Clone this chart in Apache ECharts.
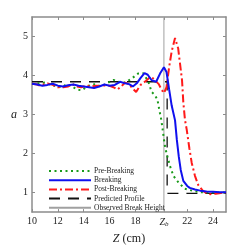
<!DOCTYPE html>
<html><head><meta charset="utf-8">
<script src="https://cdn.jsdelivr.net/npm/echarts@6/dist/echarts.min.js"></script>
<style>html,body{margin:0;padding:0;background:#fff}#c{width:250px;height:250px}</style>
</head><body><div id="c"></div>
<script>
const zb = 20.2;
const xTicks = [10, 12, 14, 16, 18, 20.2, 22, 24];
const yTicks = [1, 2, 3, 4, 5];
const seriesNames = ['Pre-Breaking', 'Breaking', 'Post-Breaking', 'Predicted Profile', 'Observed Break Height'];

const preZ = [10.0,10.5,11.0,11.5,12.0,12.3,12.7,13.1,13.5,13.85,14.2,14.5,14.9,15.3,15.7,16.0,16.3,16.7,17.0,17.4,17.7,18.2,18.6,19.0,19.25,19.5,19.7,19.85,20.0,20.1,20.2,20.3,20.45,20.67,20.93,21.3,21.8,22.5,23.0,23.5,24.0,24.5,25.0];
const preA = [3.78,3.80,3.82,3.75,3.72,3.70,3.78,3.72,3.64,3.62,3.70,3.76,3.78,3.72,3.78,3.84,3.89,3.84,3.80,3.86,3.92,4.05,4.06,3.84,3.58,3.50,3.38,3.11,2.86,2.62,2.37,2.15,1.95,1.68,1.43,1.27,1.10,1.04,1.01,1.00,1.00,1.00,1.00];

const brkZ = [10.0,10.4,10.8,11.2,11.6,12.0,12.4,12.8,13.2,13.6,14.0,14.4,14.8,15.2,15.6,16.0,16.4,16.8,17.2,17.5,17.8,18.1,18.4,18.7,18.95,19.25,19.6,19.9,20.2,20.4,20.6,20.8,21.06,21.2,21.35,21.5,21.7,22.0,22.2,22.6,23.0,23.5,24.0,24.5,25.0];
const brkA = [3.79,3.77,3.74,3.76,3.79,3.74,3.72,3.75,3.77,3.74,3.72,3.70,3.68,3.72,3.77,3.74,3.76,3.84,3.80,3.78,3.72,3.80,3.94,4.06,4.02,3.88,3.84,4.05,4.21,4.09,3.65,3.23,2.85,2.35,1.92,1.58,1.30,1.17,1.12,1.08,1.05,1.03,1.02,1.01,1.01];

const postZ = [10.0,10.4,10.6,11.2,11.6,12.0,12.4,12.8,13.1,13.4,13.8,14.2,14.6,15.0,15.4,15.8,16.3,16.6,16.9,17.2,17.5,17.8,18.05,18.4,18.8,19.2,19.5,19.8,20.0,20.2,20.4,20.6,20.8,21.06,21.3,21.45,21.6,21.7,21.83,21.96,22.17,22.35,22.6,22.86,23.2,23.5,23.8,24.2,24.6,25.0];
const postA = [3.79,3.77,3.74,3.80,3.76,3.70,3.70,3.72,3.79,3.72,3.70,3.74,3.72,3.74,3.73,3.76,3.70,3.64,3.72,3.82,3.78,3.66,3.58,3.76,3.86,3.98,3.88,3.78,3.65,3.55,3.70,4.21,4.62,4.96,4.70,4.29,3.88,3.31,2.86,2.62,2.13,1.76,1.43,1.19,1.05,0.98,0.96,0.97,0.99,1.00];

const predZ = [10, 20.45, 20.45, 25];
const predA = [3.84, 3.84, 0.98, 0.98];

const obsZ = [zb, zb];
const obsA = [0.5, 5.5];

const zip = (a, b) => a.map((v, i) => [v, b[i]]);
const font = 'Liberation Serif';
const axCol = '#8c8c8c';

const chart = echarts.init(document.getElementById('c'), null, {renderer: 'canvas'});
chart.setOption({
  animation: false,
  grid: {left: 32, top: 17, right: 24, bottom: 28},
  legend: {
    orient: 'vertical', left: 43, top: 162, itemWidth: 42, itemHeight: 8, itemGap: 1.2,
    itemStyle: {opacity: 0},
    textStyle: {fontFamily: font, fontSize: 7.5, color: '#222', padding: [0,0,0,-2]},
    data: seriesNames.map(n => ({name: n}))
  },
  xAxis: [{
    type: 'value', min: 10, max: 25, position: 'bottom',
    name: '{i|Z} (cm)', nameLocation: 'middle', nameGap: 15,
    nameTextStyle: {fontFamily: font, fontSize: 12, color: '#222', rich: {i: {fontFamily: font, fontSize: 12, fontStyle: 'italic', color: '#222'}}},
    axisLine: {onZero: false, lineStyle: {color: axCol, width: 1.5}},
    axisTick: {inside: true, length: 3, customValues: xTicks, lineStyle: {color: axCol}},
    splitLine: {show: false},
    axisLabel: {customValues: xTicks, margin: 4, fontFamily: font, fontSize: 10, color: '#222',
      formatter: v => Math.abs(v - zb) < 1e-6 ? '{i|Z}{s|b}' : String(v),
      rich: {i: {fontFamily: font, fontSize: 10, fontStyle: 'italic', color: '#222'},
             s: {fontFamily: font, fontSize: 7, fontStyle: 'italic', color: '#222', padding: [5,0,0,0]}}}
  }, {
    type: 'value', min: 10, max: 25, position: 'top',
    axisLine: {onZero: false, lineStyle: {color: axCol, width: 1.5}},
    axisTick: {inside: true, length: 3, customValues: xTicks, lineStyle: {color: axCol}},
    axisLabel: {show: false}, splitLine: {show: false}
  }],
  yAxis: [{
    type: 'value', min: 0.5, max: 5.5, position: 'left',
    name: 'a', nameLocation: 'middle', nameGap: 14, nameRotate: 0,
    nameTextStyle: {fontFamily: font, fontSize: 12, fontStyle: 'italic', color: '#222'},
    axisLine: {onZero: false, lineStyle: {color: axCol, width: 1.5}},
    axisTick: {inside: true, length: 3, customValues: yTicks, lineStyle: {color: axCol}},
    axisLabel: {customValues: yTicks, margin: 4, fontFamily: font, fontSize: 10, color: '#222'},
    splitLine: {show: false}
  }, {
    type: 'value', min: 0.5, max: 5.5, position: 'right',
    axisLine: {onZero: false, lineStyle: {color: axCol, width: 1.5}},
    axisTick: {inside: true, length: 3, customValues: yTicks, lineStyle: {color: axCol}},
    axisLabel: {show: false}, splitLine: {show: false}
  }],
  series: [
    {name: seriesNames[4], type: 'line', symbol: 'none', data: zip(obsZ, obsA), color: '#a0a0a0', lineStyle: {color: '#a0a0a0', width: 1}, z: 1},
    {name: seriesNames[3], type: 'line', symbol: 'none', data: zip(predZ, predA), color: '#111', lineStyle: {color: '#111', width: 1.3, type: [11, 8]}, z: 2},
    {name: seriesNames[0], type: 'line', symbol: 'none', data: zip(preZ, preA), color: '#1a9a1a', lineStyle: {color: '#1a9a1a', width: 2, type: [2, 3.5]}, z: 3},
    {name: seriesNames[2], type: 'line', symbol: 'none', data: zip(postZ, postA), color: '#ff1a1a', lineStyle: {color: '#ff1a1a', width: 2, type: [8, 3, 2, 3]}, z: 4},
    {name: seriesNames[1], type: 'line', symbol: 'none', data: zip(brkZ, brkA), color: '#1010ee', lineStyle: {color: '#1010ee', width: 2}, z: 5}
  ]
});
</script></body></html>
